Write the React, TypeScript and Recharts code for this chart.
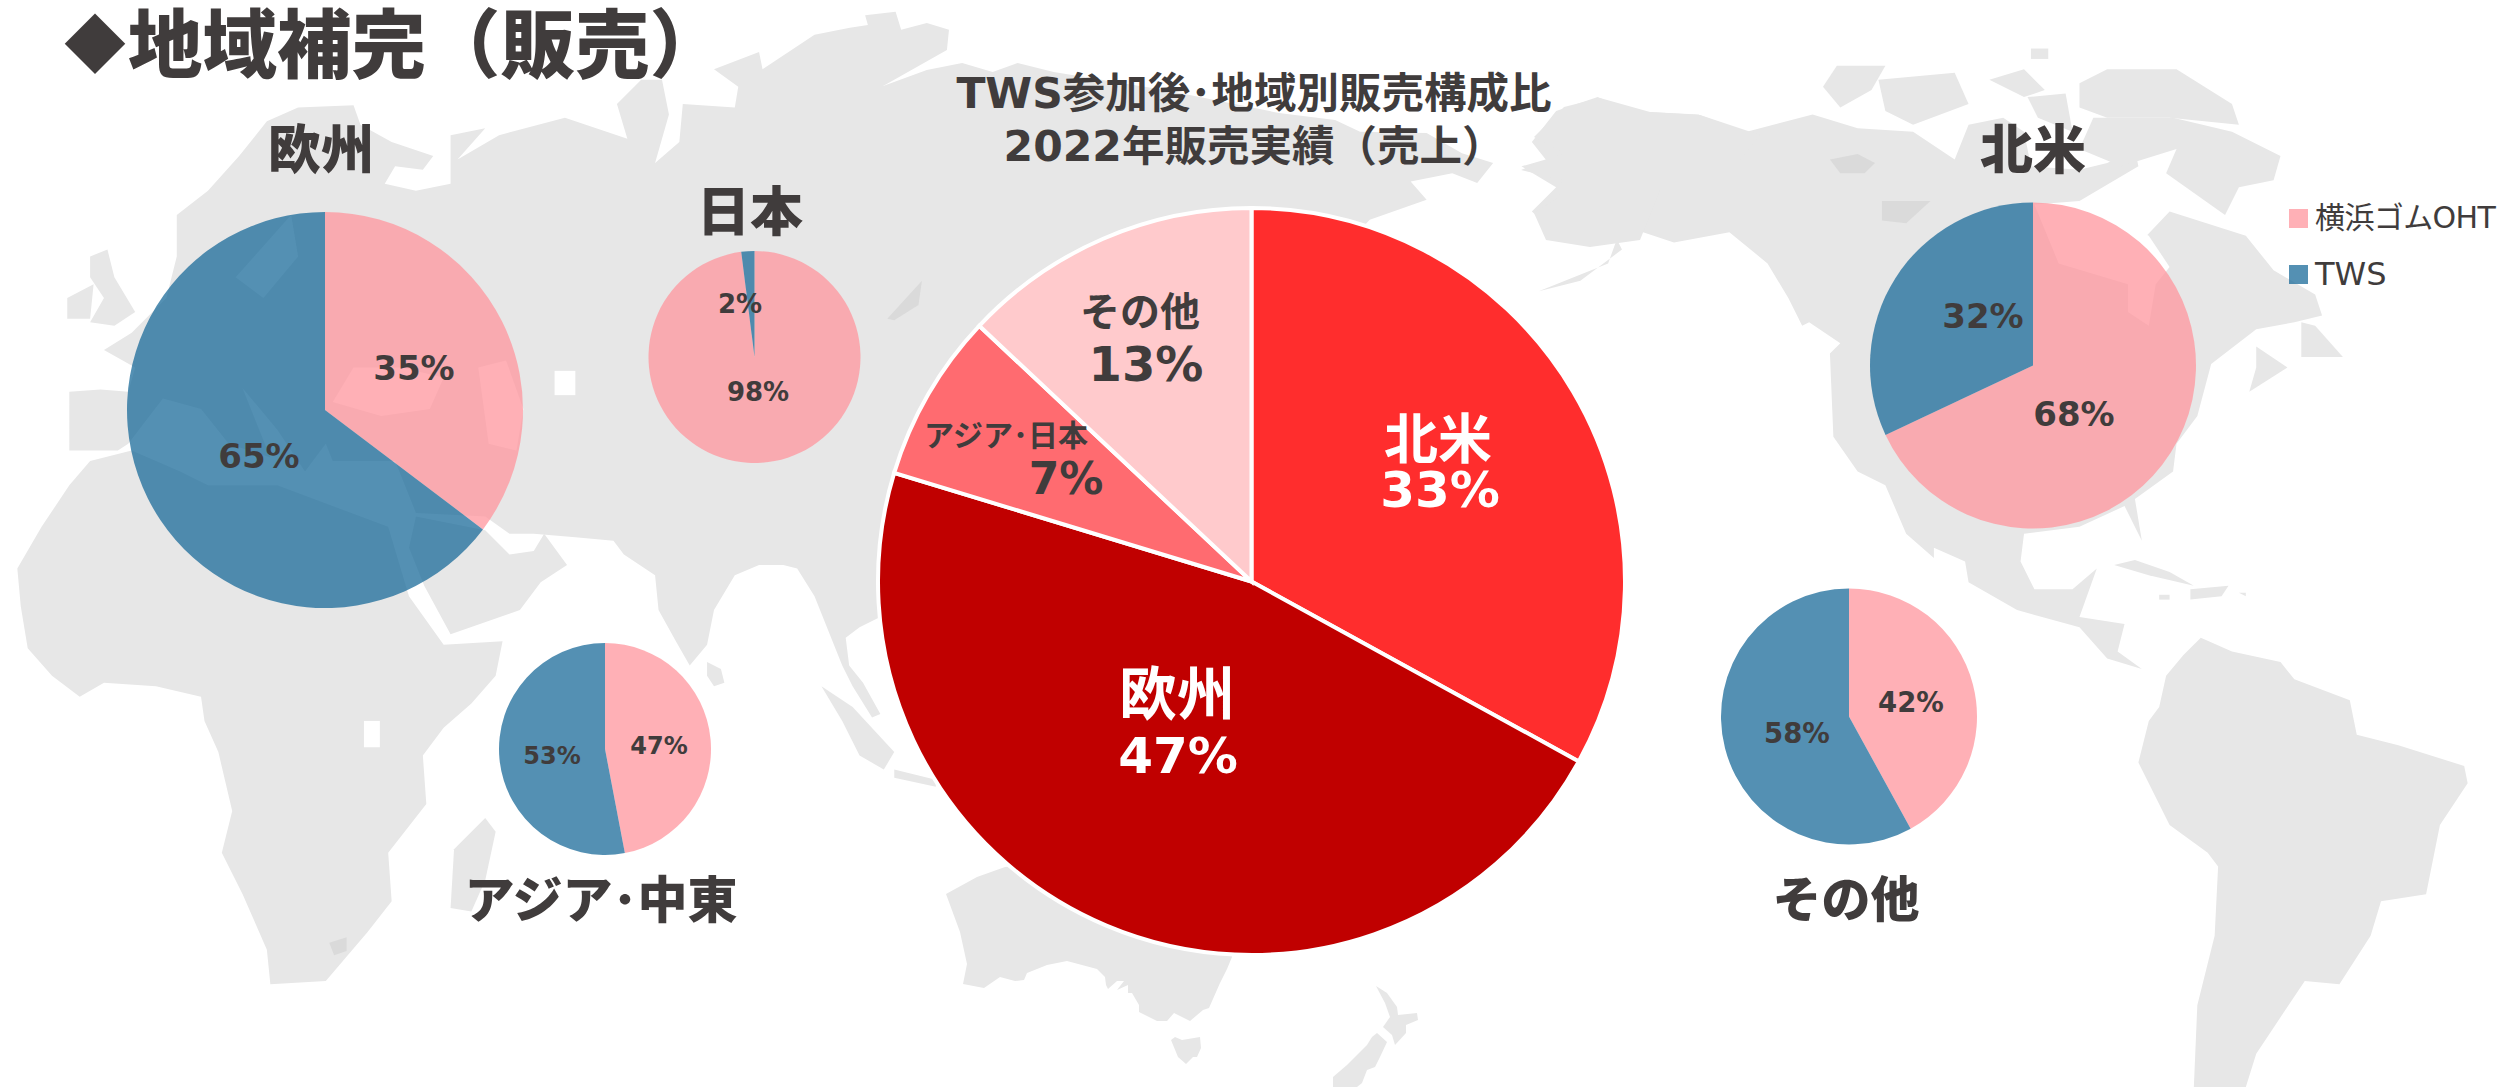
import { PieChart, Pie, Cell, Legend } from "recharts";

const companies = ["横浜ゴムOHT", "TWS"];
const companyColors = ["#FF969E", "#1B6B9A"];

const mainCategories = ["北米", "欧州", "アジア･日本", "その他"];
const mainShares = [33, 46.7, 7.3, 13];
const mainColors = ["#FF2D2D", "#C00000", "#FF6B70", "#FFCACC"];

const europeShares = [35.3, 64.7];
const japanShares = [98, 2];
const asiaShares = [47, 53];
const northAmericaShares = [68, 32];
const otherShares = [42, 58];

const INK = "#403C3C";
const FONT = '"DejaVu Sans", "Noto Sans CJK JP", sans-serif';
const CJK = '"Noto Sans CJK JP", sans-serif';

// small pies: position of pie, title and the two percent labels
const regions = [
  { title: "欧州", shares: europeShares, cx: 325, cy: 410, r: 198, titleX: 321, titleY: 169, titleSize: 53, size: 34, spots: [[414, 368], [259, 456]] },
  { title: "日本", shares: japanShares, cx: 754.5, cy: 357, r: 106, titleX: 750, titleY: 231, titleSize: 53, size: 26, spots: [[758, 392], [740, 304]] },
  { title: "アジア･中東", shares: asiaShares, cx: 605, cy: 749, r: 106, titleX: 601, titleY: 918, titleSize: 50, size: 24, spots: [[659, 746], [552, 756]] },
  { title: "北米", shares: northAmericaShares, cx: 2033, cy: 365.5, r: 163, titleX: 2033, titleY: 169, titleSize: 53, size: 34, spots: [[2074, 414], [1983, 316]] },
  { title: "その他", shares: otherShares, cx: 1849, cy: 716.5, r: 128, titleX: 1846, titleY: 917, titleSize: 49, size: 27.5, spots: [[1911, 702], [1797, 733]] },
];

// big pie labels: name and percent lines
const mainLabels = [
  { color: "#FFFFFF", nameX: 1438, nameY: 440, nameSize: 54, pctX: 1440, pctY: 490, pctSize: 50 },
  { color: "#FFFFFF", nameX: 1177, nameY: 695, nameSize: 58, pctX: 1178, pctY: 756, pctSize: 50 },
  { color: INK, nameX: 1006, nameY: 435, nameSize: 30, pctX: 1066, pctY: 478, pctSize: 44 },
  { color: INK, nameX: 1140, nameY: 312, nameSize: 40, pctX: 1146, pctY: 364, pctSize: 48 },
];

// background map, traced by hand. crop coords are scaled by .6932 into the page
const landWest = [
  "100,565 145,562 185,565 195,530 150,505 190,480 240,430 255,370 255,310 300,275 345,225 385,175 430,155 510,152 520,180 565,205 625,225 610,245 570,240 555,265 600,275 650,265 650,195 700,185 660,230 720,195 815,170 905,200 890,150 925,115 955,115 965,165 945,235 980,205 985,150 1060,155 1065,125 1030,100 1095,75 1100,100 1175,50 1226,40 1252,36 1248,22 1292,17 1300,43 1337,33 1369,43 1366,72 1274,124 1337,101 1388,91 1432,104 1468,91 1520,104 1680,130 1845,163 1926,173 1962,190 2058,192 2109,221 2154,235 2131,264 2095,250 2035,262 2058,288 1976,317 1800,500 1500,800 1290,880 1240,905 1220,920 1225,960 1245,985 1270,1030 1258,1035 1230,990 1215,960 1175,860 1150,820 1130,815 1095,815 1060,830 1030,880 1020,930 995,960 975,925 950,880 945,830 900,800 885,780 830,775 770,770 735,770 700,745 600,740 570,665 480,665 470,640 440,680 400,620 350,560 390,660 330,640 290,590 235,575 185,640 170,650 100,650",
  "700,765 735,800 770,795 785,770 818,815 780,840 750,880 650,915 612,845 590,790 600,745",
  "25,820 60,760 100,700 130,665 190,650 260,680 300,700 400,700 560,760 590,860 640,930 725,925 715,975 680,1015 640,1050 610,1090 615,1160 560,1230 565,1300 530,1345 470,1415 390,1420 385,1370 350,1290 320,1230 335,1170 315,1085 295,1040 290,1005 225,990 150,985 115,1005 75,975 40,935 30,875",
  "130,370 155,360 165,400 195,450 165,470 130,465 150,430 130,400",
  "97,430 135,410 130,460 97,460",
  "655,1225 700,1180 715,1200 700,1270 680,1315 650,1310",
  "1020,955 1040,965 1045,985 1030,990 1020,975",
  "1185,990 1230,1020 1290,1085 1275,1110 1240,1090 1215,1040",
  "1290,1110 1350,1125 1350,1135 1290,1122",
];

const waterWest = [
  "480,580 510,530 580,530 640,545 620,590 550,600",
  "690,530 730,520 755,590 745,650 705,640",
  "340,400 420,310 430,370 380,430",
  "800,535 830,535 830,570 800,570",
  "525,1040 548,1040 548,1078 525,1078",
];

const lakesWest = ["1280,460 1330,405 1325,440 1290,462", "475,1360 500,1352 500,1372 482,1378"];

const landEast = [
  "155,240 190,230 170,205 205,160 265,140 310,160 410,165 480,190 575,165 640,185 720,190 780,230 800,180 850,170 880,190 890,240 960,245 1000,235 1040,215 1045,240 960,290 1000,400 1090,305 1200,340 1240,390 1300,425 1310,455 1270,465 1215,475 1150,525 1130,600 1100,640 1095,680 1040,720 1050,780 1025,730 960,760 880,770 875,810 895,850 950,850 985,820 960,890 1025,900 1015,940 1050,965 1000,950 960,905 870,880 800,840 795,810 750,790 700,715 750,780 750,805 710,770 680,700 640,680 605,630 600,510 615,495 570,465 560,470 540,430 510,380 455,335 375,350 300,325 280,380 180,420 240,405 300,360 290,340 215,345 170,305 205,270",
  "1215,500 1260,530 1205,565 1215,530",
  "1280,465 1300,470 1340,515 1280,515",
  "590,125 610,95 680,95 660,130 615,155",
  "670,115 780,105 800,150 720,180 680,160",
  "830,115 880,100 910,130 880,140",
  "890,70 915,70 915,85 890,85",
  "885,140 940,135 950,190 900,170",
  "980,170 1095,170 1180,190 1250,225 1240,260 1190,270 1170,310 1085,250 1100,215 1020,240 960,215",
  "960,120 1000,100 1100,100 1180,150 1190,180 1090,170 1000,170 960,155",
  "1010,815 1040,808 1090,825 1125,845 1060,830",
  "1120,850 1175,845 1165,860 1120,865",
  "1075,858 1090,858 1090,865 1075,865",
  "1190,855 1200,855 1200,860",
  "1050,965 1085,975 1075,1020 1060,1040 1045,1100 1090,1190 1145,1230 1160,1250 1155,1350 1130,1450 1125,1568 1200,1568 1215,1520 1285,1415 1335,1420 1380,1350 1395,1300 1460,1290 1480,1190 1520,1130 1515,1105 1420,1075 1360,1060 1350,1010 1270,980 1250,955 1180,940 1135,920 1110,945 1085,975",
];

const waterEast = ["895,295 930,380 1030,410 1030,450 1060,470 1070,410 1090,385 1060,340 960,290"];
const lakesEast = ["600,230 640,222 665,235 650,250 615,250", "675,290 745,290 710,322 675,318"];

// these ones are already in page pixels
const landPage = [
  "1534,137 1564,107 1600,98 1650,112 1700,115 1760,135 1740,160 1700,170 1660,190 1640,240 1590,247 1546,240 1534,213 1559,197 1562,180 1521,170 1564,153",
  "946,894 960,932 967,964 963,984 984,988 1000,977 1015,981 1024,980 1027,973 1047,965 1067,961 1097,969 1105,977 1106,985 1108,989 1117,981 1124,981 1117,990 1128,985 1128,993 1132,993 1139,1005 1139,1012 1157,1021 1167,1021 1174,1013 1190,1021 1203,1010 1209,1008 1220,983 1227,969 1232,957 1200,850 1005,867 977,877",
  "1171,1040 1175,1037 1182,1040 1200,1037 1201,1048 1197,1057 1193,1057 1186,1064 1178,1057",
  "1376,986 1387,993 1397,1007 1398,1015 1417,1013 1418,1020 1406,1025 1406,1033 1395,1045 1392,1035 1383,1027 1390,1017 1385,1003",
  "1372,1037 1377,1033 1387,1042 1380,1057 1375,1067 1367,1070 1362,1083 1357,1087 1333,1087 1333,1077 1347,1065 1367,1045",
];

function WorldMap() {
  const land = "#E7E7E7";
  const lake = "#DADADA";
  return (
    <svg width={2501} height={1087} style={{ position: "absolute", left: 0, top: 0 }}>
      <g transform="scale(.6932)">
        {landWest.map((p, i) => <polygon key={i} points={p} fill={land} />)}
        {waterWest.map((p, i) => <polygon key={i} points={p} fill="#FFFFFF" />)}
        {lakesWest.map((p, i) => <polygon key={i} points={p} fill={lake} />)}
      </g>
      <g transform="translate(1414,0) scale(.6932)">
        {landEast.map((p, i) => <polygon key={i} points={p} fill={land} />)}
        {waterEast.map((p, i) => <polygon key={i} points={p} fill="#FFFFFF" />)}
        {lakesEast.map((p, i) => <polygon key={i} points={p} fill={lake} />)}
      </g>
      <g>
        {landPage.map((p, i) => <polygon key={i} points={p} fill={land} />)}
      </g>
    </svg>
  );
}

function centered(x: number, y: number, size: number, color: string, text: string) {
  return (
    <text x={x} y={y} fill={color} fontSize={size} fontWeight={700} fontFamily={FONT} textAnchor="middle" dominantBaseline="central">
      {text}
    </text>
  );
}

function CompanyLegend() {
  return (
    <div style={{ fontFamily: FONT, color: INK, lineHeight: "56px", whiteSpace: "nowrap" }}>
      {companies.map((c, i) => (
        <div key={c} style={{ display: "flex", alignItems: "center", height: 56 }}>
          <span style={{ width: 19, height: 19, marginRight: 7, background: companyColors[i], opacity: 0.75 }} />
          <span style={{ fontSize: i === 0 ? 30 : 32, letterSpacing: i === 0 ? -0.6 : 0 }}>{c}</span>
        </div>
      ))}
    </div>
  );
}

export default function App() {
  return (
    <div style={{ position: "absolute", left: 0, top: 0, width: 2501, height: 1087, overflow: "hidden", background: "#FFFFFF" }}>
      <WorldMap />
      <div style={{ position: "absolute", left: 0, top: 0 }}>
        <PieChart width={2501} height={1087} margin={{ top: 0, right: 0, bottom: 0, left: 0 }}>
          {regions.map((r) => (
            <Pie
              key={r.title}
              data={r.shares.map((value, i) => ({ name: companies[i], value }))}
              dataKey="value"
              nameKey="name"
              cx={r.cx}
              cy={r.cy}
              outerRadius={r.r}
              startAngle={90}
              endAngle={-270}
              stroke="none"
              isAnimationActive={false}
              labelLine={false}
              label={(p: any) => centered(r.spots[p.index][0], r.spots[p.index][1], r.size, INK, `${Math.round(r.shares[p.index])}%`)}
            >
              {r.shares.map((_, i) => (
                <Cell key={i} fill={companyColors[i]} fillOpacity={0.75} />
              ))}
            </Pie>
          ))}
          <Pie
            data={mainCategories.map((name, i) => ({ name, value: mainShares[i] }))}
            dataKey="value"
            nameKey="name"
            cx={1251.5}
            cy={581.5}
            outerRadius={373.5}
            startAngle={90}
            endAngle={-270}
            stroke="#FFFFFF"
            strokeWidth={4}
            isAnimationActive={false}
            labelLine={false}
            label={(p: any) => {
              const l = mainLabels[p.index];
              return (
                <g>
                  {centered(l.nameX, l.nameY, l.nameSize, l.color, mainCategories[p.index])}
                  {centered(l.pctX, l.pctY, l.pctSize, l.color, `${Math.round(mainShares[p.index])}%`)}
                </g>
              );
            }}
          >
            {mainCategories.map((c, i) => (
              <Cell key={c} fill={mainColors[i]} />
            ))}
          </Pie>
          <Legend content={<CompanyLegend />} wrapperStyle={{ position: "absolute", left: 2289, top: 190, width: 212, bottom: "auto" }} />
        </PieChart>
      </div>
      <svg width={2501} height={1087} style={{ position: "absolute", left: 0, top: 0, pointerEvents: "none" }}>
        <text x={64} y={68} fontSize={62} fontWeight={700} fontFamily={CJK} fill={INK}>◆</text>
        <text x={128} y={72} fontSize={74.5} fontWeight={900} fontFamily={CJK} fill={INK}>地域補完（販売）</text>
        <text x={1254} y={108} fontSize={42.5} fontWeight={700} fontFamily={FONT} fill={INK} textAnchor="middle">TWS参加後･地域別販売構成比</text>
        <text x={1254} y={161} fontSize={42.5} fontWeight={700} fontFamily={FONT} fill={INK} textAnchor="middle">2022年販売実績（売上）</text>
        {regions.map((r) => (
          <text key={r.title} x={r.titleX} y={r.titleY} fontSize={r.titleSize} fontWeight={900} fontFamily={CJK} fill={INK} textAnchor="middle">
            {r.title}
          </text>
        ))}
      </svg>
    </div>
  );
}
